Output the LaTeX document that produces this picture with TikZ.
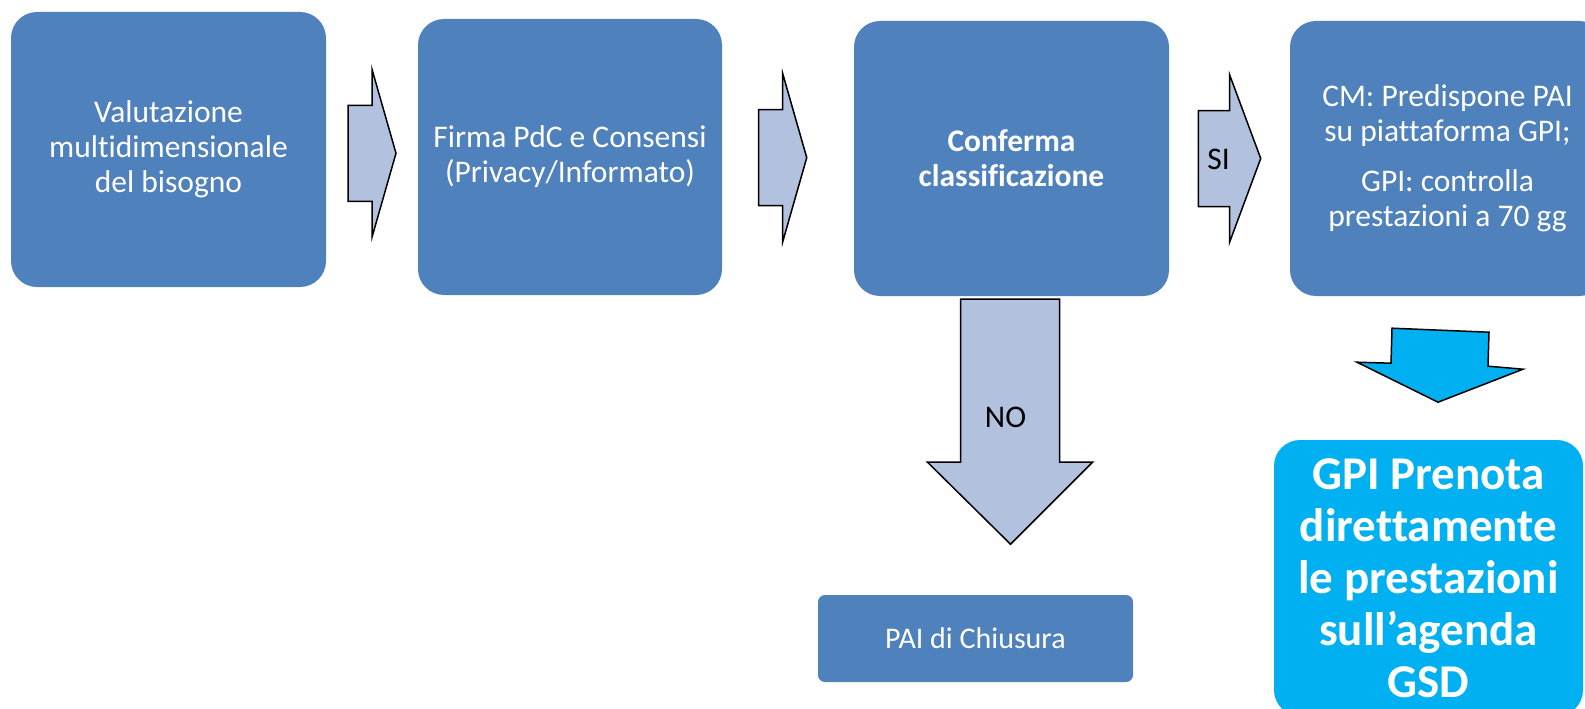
\documentclass[tikz,border=0pt]{standalone}
\usepackage{fontspec}
\setmainfont{Carlito}[Ligatures=NoCommon]
\usetikzlibrary{calc,positioning}

\definecolor{boxblue}{RGB}{79,129,189}
\definecolor{arrowfill}{RGB}{178,193,221}
\definecolor{gsdcyan}{RGB}{0,176,240}

\tikzset{
  stepbox/.style={fill=boxblue, rounded corners=26pt, text=white, align=center,
    minimum width=315pt, minimum height=275pt, inner sep=0pt,
    font=\fontsize{31.5}{35}\selectfont},
  blockarrow/.style={draw=black, line width=1.5pt, fill=arrowfill, line join=miter},
  rarrow/.pic={\draw[blockarrow] (-24,-48) -- (0,-48) -- (0,-84) -- (24,0) -- (0,84) -- (0,48) -- (-24,48) -- cycle;}
}

\begin{document}
\begin{tikzpicture}[x=1pt,y=-1pt]
\useasboundingbox (0,0) rectangle (1585,709);
\clip (0,0) rectangle (1585,709);

% boxes in a row
\node[stepbox] (valut) at (168.5,149.5) {Valutazione\\multidimensionale\\del bisogno};
\node[stepbox, minimum width=304pt, minimum height=276pt] (firma) at (570,157) {Firma PdC e Consensi\\(Privacy/Informato)};
\node[stepbox, font=\fontsize{31.5}{35}\selectfont\bfseries] (conf) at (1011.5,158.5) {Conferma\\classificazione};
\node[stepbox] (pai) at (1447.5,158.5) {CM: Predispone PAI\\su piattaforma GPI;\\[15pt]GPI: controlla\\prestazioni a 70 gg};

\node[stepbox, rounded corners=7pt, minimum height=87pt, font=\fontsize{30}{34}\selectfont] (chiusura) at (975.5,638.5) {PAI di Chiusura};
\node[stepbox, fill=gsdcyan, minimum width=309pt, minimum height=276pt, font=\fontsize{47}{52}\selectfont\bfseries] (gsd) at (1428.5,578) {GPI Prenota\\direttamente\\le prestazioni\\sull’agenda\\GSD};

% arrows between the boxes
\pic at ($(valut.east)!0.5!(firma.west)$) {rarrow};
\pic at ($(firma.east)!0.46!(conf.west)$) {rarrow};
\coordinate (si) at ($(conf.east)!0.5!(pai.west)$);
\pic[xscale=1.3] at (si) {rarrow};
\node[font=\fontsize{31.5}{35}\selectfont] (silab) at ($(si)+(-11,1)$) {SI};

% down arrows
\begin{scope}[shift={(conf.south)}]
\draw[blockarrow] (-51,3) -- (48,3) -- (48,166) -- (81,166) -- (-1,248) -- (-84,166) -- (-51,166) -- cycle;
\node[font=\fontsize{31.5}{35}\selectfont] (nolab) at (-6,121) {NO};
\end{scope}
\begin{scope}[shift={(pai.south)}]
\draw[blockarrow, fill=gsdcyan] (-55.5,32) -- (41.5,36) -- (40.5,70) -- (75.5,73) -- (-9.5,106) -- (-90.5,66) -- (-56.5,67) -- cycle;
\end{scope}
\end{tikzpicture}
\end{document}
